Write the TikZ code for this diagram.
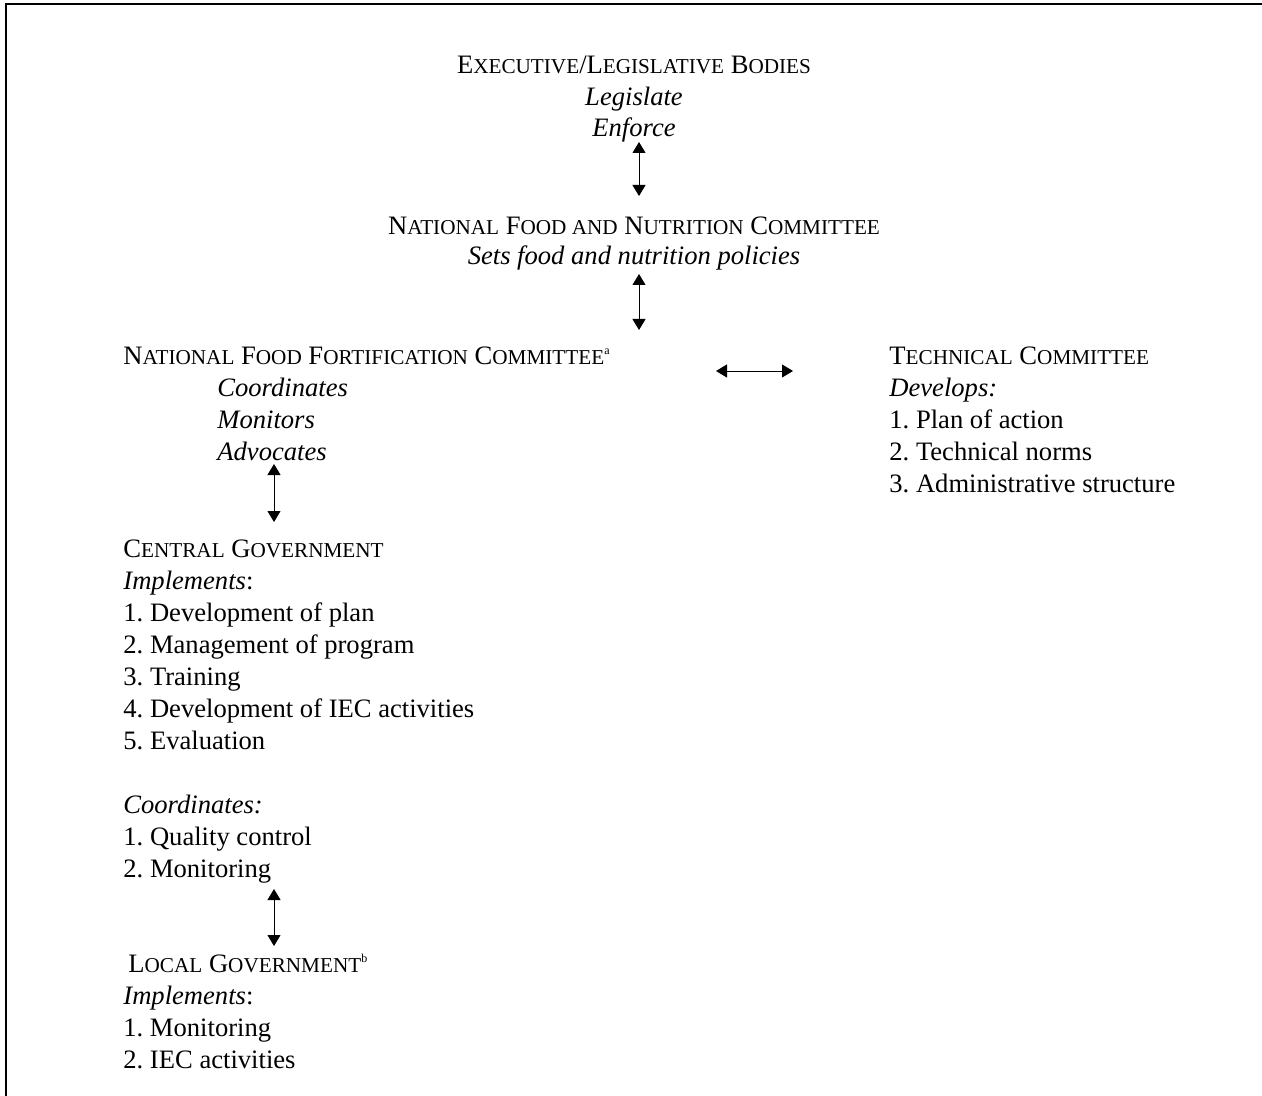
\documentclass[tikz,border=0pt]{standalone}
\usepackage{fontspec}
\setmainfont{Liberation Serif}
\usetikzlibrary{arrows.meta}
\newcommand{\smc}[1]{{\fontsize{10.6}{16}\selectfont #1}}
\newcommand{\fnmark}[1]{\raisebox{5pt}{\fontsize{6}{6}\selectfont #1}}
\frenchspacing

\begin{document}
\begin{tikzpicture}[x=0.5pt, y=-0.5pt,
    block/.style={inner sep=0pt, font=\fontsize{13.3}{16}\selectfont},
    link/.style={line width=0.5pt, {Triangle[width=6.5pt,length=5.5pt]}-{Triangle[width=6.5pt,length=5.5pt]}}]
    \useasboundingbox (0,0) rectangle (1262,1096);
    % Draw the frame
    \draw[line width=1pt] (5.5,1096) |- (1262,4.5);

    % Draw the blocks (placed at the baseline of their last line)
    \node[block, align=center, anchor=base, font=\fontsize{13.3}{15.75}\selectfont] (exec) at (634,137) {E\smc{XECUTIVE}/L\smc{EGISLATIVE} B\smc{ODIES}\\ \textit{Legislate}\\ \textit{Enforce}};
    \node[block, align=center, anchor=base, font=\fontsize{13.3}{15}\selectfont] (nfnc) at (634,265) {N\smc{ATIONAL} F\smc{OOD AND} N\smc{UTRITION} C\smc{OMMITTEE}\\ \textit{Sets food and nutrition policies}};
    \node[block, align=left, anchor=base west] (nffc) at (123,460) {N\smc{ATIONAL} F\smc{OOD} F\smc{ORTIFICATION} C\smc{OMMITTEE}\fnmark{a}\\ \hspace*{47pt}\textit{Coordinates}\\ \hspace*{47pt}\textit{Monitors}\\ \hspace*{47pt}\textit{Advocates}};
    \node[block, align=left, anchor=base west] (tech) at (889,492) {T\smc{ECHNICAL} C\smc{OMMITTEE}\\ \textit{Develops:}\\ 1. Plan of action\\ 2. Technical norms\\ 3. Administrative structure};
    \node[block, align=left, anchor=base west] (central) at (123,877) {C\smc{ENTRAL} G\smc{OVERNMENT}\\ \textit{Implements}:\\ 1. Development of plan\\ 2. Management of program\\ 3. Training\\ 4. Development of IEC activities\\ 5. Evaluation\\[16pt] \textit{Coordinates:}\\ 1. Quality control\\ 2. Monitoring};
    \node[block, align=left, anchor=base west] (local) at (123,1068) {\hspace*{2.5pt}L\smc{OCAL} G\smc{OVERNMENT}\fnmark{b}\\ \textit{Implements}:\\ 1. Monitoring\\ 2. IEC activities};

    % Draw the arrow ends
    \coordinate (e1) at (639,142);
    \coordinate (n1) at (639,196);
    \coordinate (n2) at (639,274);
    \coordinate (f1) at (639,330);
    \coordinate (f2) at (716,371);
    \coordinate (t1) at (793,371);
    \coordinate (f3) at (274,464);
    \coordinate (c1) at (274,522);
    \coordinate (c2) at (274,889);
    \coordinate (l1) at (274,946);

    % Draw the two-way arrows
    \draw[link] (e1) -- (n1);
    \draw[link] (n2) -- (f1);
    \draw[link] (f2) -- (t1);
    \draw[link] (f3) -- (c1);
    \draw[link] (c2) -- (l1);
\end{tikzpicture}
\end{document}
